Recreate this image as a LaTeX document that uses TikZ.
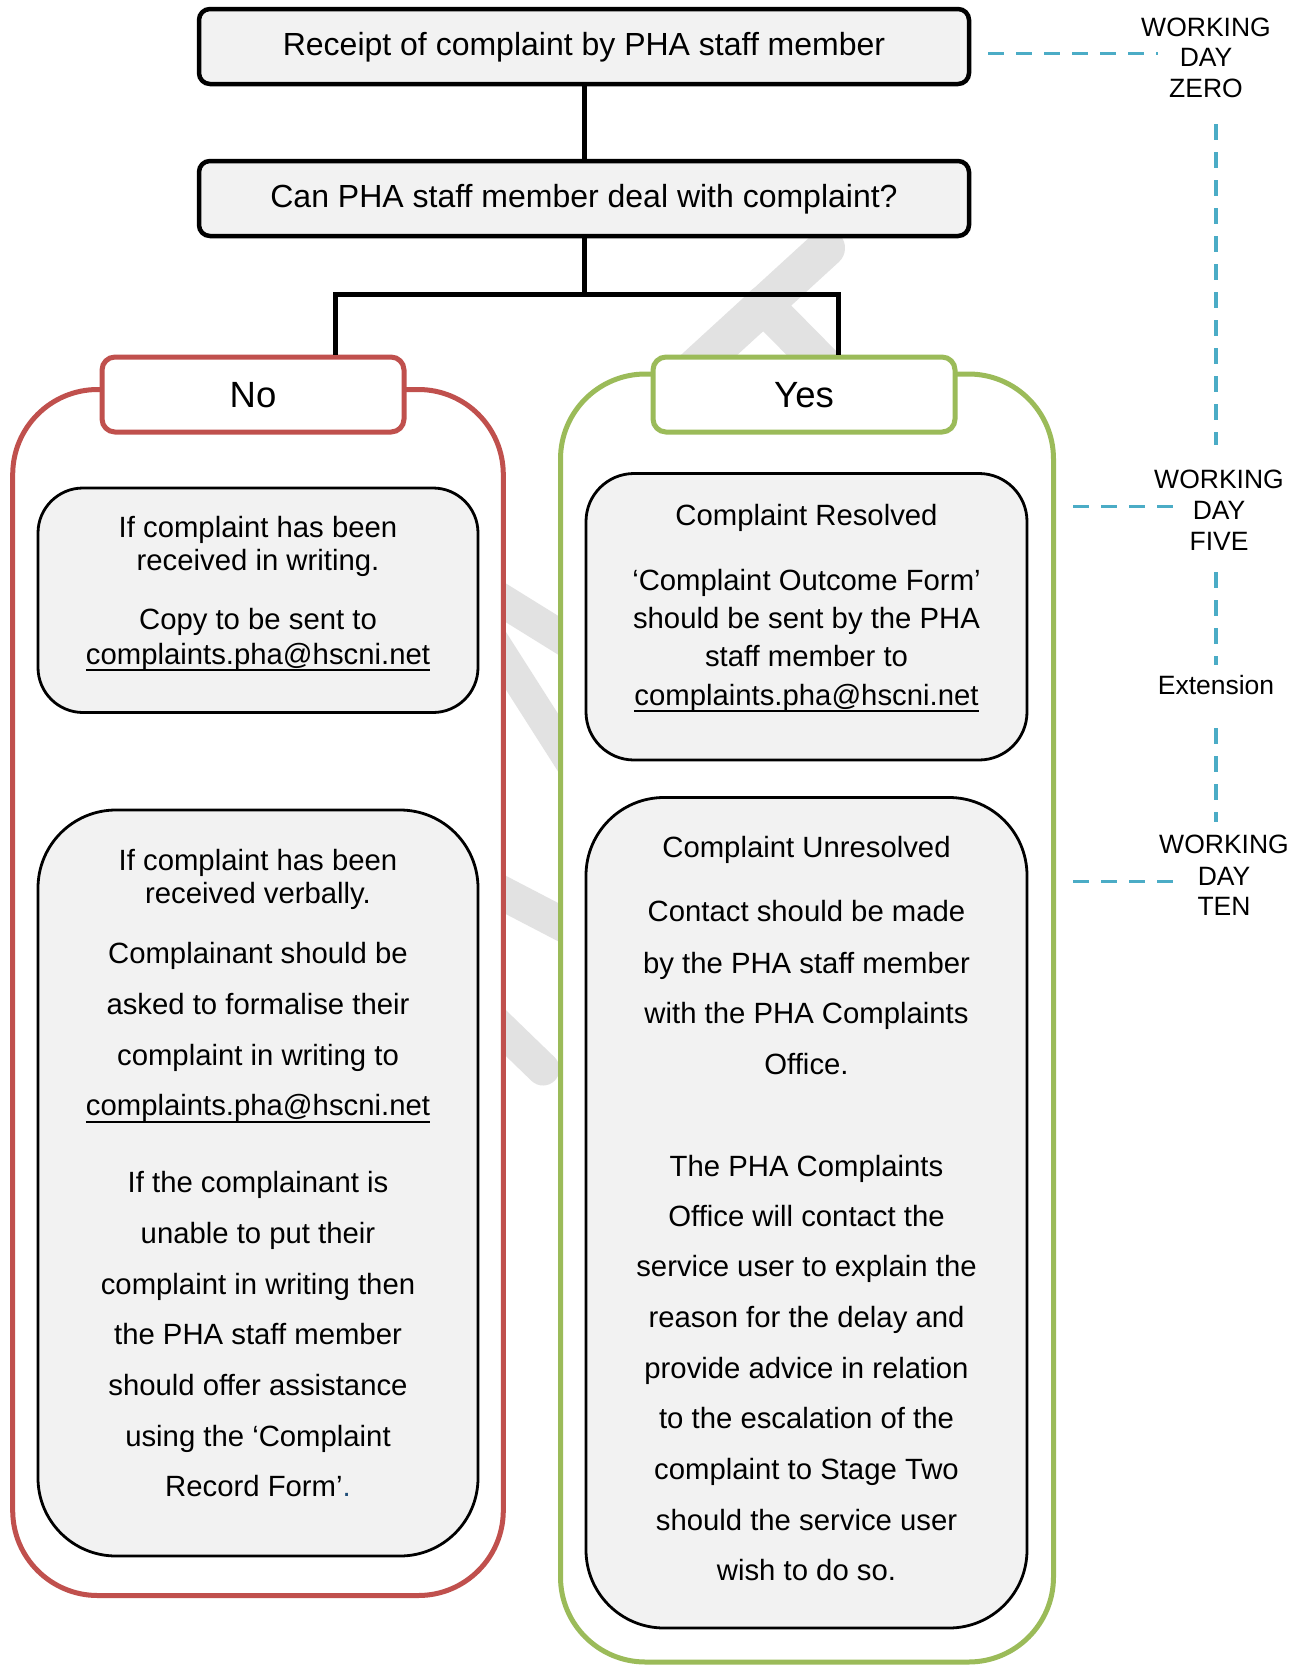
\documentclass[tikz,border=0pt]{standalone}
\usepackage{fontspec}
\setmainfont{Liberation Sans}
\usetikzlibrary{calc}
\definecolor{phared}{HTML}{C0504D}
\definecolor{phagreen}{HTML}{9BBB59}
\definecolor{phateal}{HTML}{4BACC6}
\definecolor{phagray}{HTML}{F2F2F2}
\definecolor{wmark}{HTML}{E2E2E2}
\definecolor{dotblue}{HTML}{1F4E79}
\newcommand\mailul[1]{\setbox0\hbox{#1}\rlap{\rule[-7.3pt]{\wd0}{2.5pt}}\box0}
\begin{document}
\begin{tikzpicture}[x=1pt,y=-1pt,
  titlebox/.style={draw=black, line width=4.5pt, fill=phagray, rounded corners=11pt,
    minimum width=770pt, minimum height=75pt, inner sep=0pt,
    text height=18pt, text depth=0pt, font=\fontsize{32}{38}\selectfont},
  tabbox/.style={line width=5pt, fill=white, rounded corners=13pt,
    minimum width=302pt, minimum height=75pt, inner sep=0pt,
    text height=26pt, text depth=0pt, font=\fontsize{36.5}{42}\selectfont},
  panel/.style={line width=5pt, fill=white, rounded corners=85pt, inner sep=0pt},
  inbox/.style={draw=black, line width=2.8pt, fill=phagray, inner sep=0pt},
  bodytxt/.style={inner sep=0pt, anchor=base, font=\fontsize{29.3}{35}\selectfont},
  daytxt/.style={inner sep=0pt, anchor=base, font=\fontsize{26.5}{30}\selectfont},
  conn/.style={draw=black, line width=5pt, line join=miter},
  tl/.style={draw=phateal, line width=3.5pt, dash pattern=on 16pt off 12pt},
  wm/.style={draw=wmark, line cap=round}]

\useasboundingbox (0,0) rectangle (1306,1665);
\fill[white] (0,0) rectangle (1306,1665);

% watermark fragments
\draw[wm, line width=38pt] (826,248) -- (638,420);
\draw[wm, line width=38pt] (763.6,304.6) -- (840,382);
\draw[wm, line width=33pt] (480,586.8) -- (590,655);
\draw[wm, line width=31pt] (480,620.1) -- (590,792.8);
\draw[wm, line width=34pt] (480,881.5) -- (590,938.7);
\draw[wm, line width=33pt] (480,1008) -- (543,1069);

% panels
\node[panel, draw=phared, minimum width=490.6pt, minimum height=1206pt] (noPanel) at (258,992.5) {};
\node[panel, draw=phagreen, minimum width=493pt, minimum height=1288pt] (yesPanel) at (807,1018) {};

% tabs
\node[tabbox, draw=phared] (noTab) at (253,394.5) {No};
\node[tabbox, draw=phagreen] (yesTab) at (804,394.5) {Yes};

% top boxes
\node[titlebox] (b1) at (584,46.5) {Receipt of complaint by PHA staff member};
\node[titlebox] (b2) at (584,198.5) {Can PHA staff member deal with complaint?};

% inner boxes
\node[inbox, rounded corners=45pt, minimum width=440pt, minimum height=224.5pt] (lbox1) at (258,600.25) {};
\node[inbox, rounded corners=78pt, minimum width=440pt, minimum height=746pt] (lbox2) at (258,1183) {};
\node[inbox, rounded corners=48pt, minimum width=441pt, minimum height=286.5pt] (rbox1) at (806.5,616.75) {};
\node[inbox, rounded corners=78pt, minimum width=441pt, minimum height=830.5pt] (rbox2) at (806.5,1212.75) {};

% texts
\foreach \yy/\tx [count=\k] in {537.3/If complaint has been, 570.7/received in writing., 629.3/Copy to be sent to, 664/{\mailul{complaints.pha@hscni.net}}}
  \node[bodytxt] (lw-\k) at (258,\yy) {\tx};
\foreach \yy/\tx [count=\k] in {525/Complaint Resolved, 590/‘Complaint Outcome Form’, 628.3/should be sent by the PHA, 666.7/staff member to, 705/{\mailul{complaints.pha@hscni.net}}}
  \node[bodytxt] (rr-\k) at (806.5,\yy) {\tx};
\foreach \yy/\tx [count=\k] in {870/If complaint has been, 903.3/received verbally., 963.3/Complainant should be, 1014.3/asked to formalise their, 1065/complaint in writing to, 1115.7/{\mailul{complaints.pha@hscni.net}}, 1192.7/If the complainant is, 1243.3/unable to put their, 1294/complaint in writing then, 1344.3/the PHA staff member, 1395/should offer assistance, 1446/using the ‘Complaint, 1496/{Record Form’{\color{dotblue}.}}}
  \node[bodytxt] (lv-\k) at (258,\yy) {\tx};
\foreach \yy/\tx [count=\k] in {857.3/Complaint Unresolved, 921.7/Contact should be made, 973.3/by the PHA staff member, 1023.3/with the PHA Complaints, 1074/Office., 1176/The PHA Complaints, 1226.7/Office will contact the, 1276.7/service user to explain the, 1327.4/reason for the delay and, 1378/provide advice in relation, 1428.7/to the escalation of the, 1479.4/complaint to Stage Two, 1530/should the service user, 1580.7/wish to do so.}
  \node[bodytxt] (ru-\k) at (806.5,\yy) {\tx};

% connectors
\coordinate (hbar) at (584,294);
\coordinate (noIn) at ($(noTab.north west)!0.77!(noTab.north east)$);
\coordinate (yesIn) at ($(yesTab.north west)!0.613!(yesTab.north east)$);
\draw[conn] (b1.south) -- (b2.north);
\draw[conn] (b2.south) -- (b2.south |- hbar);
\draw[conn] (noIn) -- (noIn |- hbar) -- (yesIn |- hbar) -- (yesIn);

% timeline labels
\node[daytxt] (z1) at (1206,36) {WORKING};
\node[daytxt] (z2) at (1206,66) {DAY};
\node[daytxt] (z3) at (1206,97.3) {ZERO};
\node[daytxt] (f1) at (1219,488.3) {WORKING};
\node[daytxt] (f2) at (1219,519.3) {DAY};
\node[daytxt] (f3) at (1219,550) {FIVE};
\node[daytxt] (ext) at (1216,694.3) {Extension};
\node[daytxt] (t1) at (1224,853.3) {WORKING};
\node[daytxt] (t2) at (1224,885) {DAY};
\node[daytxt] (t3) at (1224,915) {TEN};

% timeline dashes
\coordinate (zh0) at (988,53.3);  \coordinate (zh1) at (1158,53.3);
\coordinate (v1a) at (1216,124);  \coordinate (v1b) at (1216,445);
\coordinate (fh0) at (1073,506.7); \coordinate (fh1) at (1173,506.7);
\coordinate (v2a) at (1216,572);  \coordinate (v2b) at (1216,665);
\coordinate (v3a) at (1216,728);  \coordinate (v3b) at (1216,822);
\coordinate (th0) at (1073,881.7); \coordinate (th1) at (1173,881.7);
\draw[tl] (zh0) -- (zh1);
\draw[tl] (v1a) -- (v1b);
\draw[tl] (fh0) -- (fh1);
\draw[tl] (v2a) -- (v2b);
\draw[tl] (v3a) -- (v3b);
\draw[tl] (th0) -- (th1);
\end{tikzpicture}
\end{document}
